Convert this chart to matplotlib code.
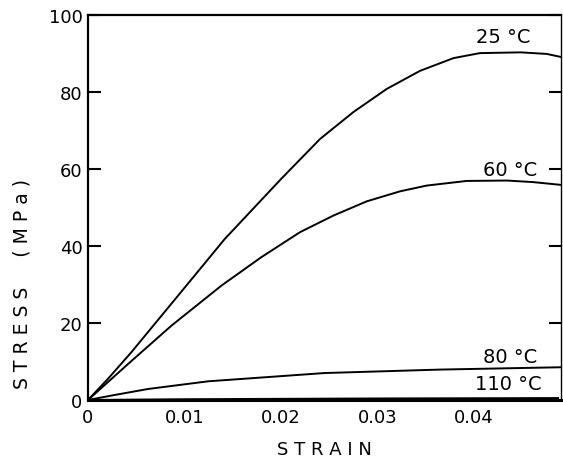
import matplotlib.pyplot as plt
import numpy as np

# stress-strain curves (strain, MPa)
strain_25 = [0, 0.00207, 0.00449, 0.00933, 0.01416, 0.0200, 0.02404, 0.0275,
             0.03095, 0.0344, 0.03786, 0.0406, 0.0448, 0.0475, 0.0492]
stress_25 = [0, 5.5, 12.4, 27.1, 41.8, 57.4, 67.8, 74.8,
             80.8, 85.5, 88.8, 90.1, 90.3, 89.9, 89.0]

strain_60 = [0, 0.00415, 0.00864, 0.01382, 0.01796, 0.02197, 0.02542, 0.02888,
             0.03233, 0.0351, 0.03924, 0.0434, 0.0461, 0.0489]
stress_60 = [0, 9.35, 19.3, 29.7, 37.1, 43.6, 47.9, 51.6,
             54.2, 55.7, 56.9, 57.0, 56.6, 55.9]

strain_80 = [0, 0.00276, 0.00622, 0.01244, 0.0245, 0.0365, 0.0489]
stress_80 = [0, 1.3, 2.86, 4.85, 7.0, 7.9, 8.5]

strain_110 = [0, 0.01, 0.03, 0.0487]
stress_110 = [0, 0.2, 0.4, 0.5]

labels = ['25 °C', '60 °C', '80 °C', '110 °C']
label_x = [0.0430, 0.0437, 0.0437, 0.0435]
label_y = [94.3, 60.0, 11.2, 4.2]

xticks = [0, 0.01, 0.02, 0.03, 0.04]
xticklabels = ['0', '0.01', '0.02', '0.03', '0.04']
yticks = [0, 20, 40, 60, 80, 100]

fig = plt.figure(figsize=(5.63, 4.64), dpi=100)
ax = fig.add_axes([0.1563, 0.1358, 0.8401, 0.8297])

for sx, sy in [(strain_25, stress_25), (strain_60, stress_60),
               (strain_80, stress_80), (strain_110, stress_110)]:
    ax.plot(sx, sy, color='black', lw=1.4, solid_joinstyle='round')

for t, x, y in zip(labels, label_x, label_y):
    ax.text(x, y, t, ha='center', va='center', fontsize=14)

ax.set_xlim(0, 0.049)
ax.set_ylim(0, 100)
ax.set_xticks(xticks)
ax.set_xticklabels(xticklabels, fontsize=13)
ax.set_yticks(yticks)
ax.set_yticklabels([str(v) for v in yticks], fontsize=13)
ax.tick_params(axis='x', length=0, pad=6)
ax.tick_params(axis='y', direction='in', length=9, width=1.5, right=True, pad=4)

for side in ['left', 'top']:
    ax.spines[side].set_linewidth(1.6)
ax.spines['bottom'].set_linewidth(2.2)
ax.spines['right'].set_linewidth(1.0)

fig.text(0.039, 0.388, 'S T R E S S     ( M P a )', rotation=90,
         ha='center', va='center', fontsize=13.5)
fig.text(0.577, 0.030, 'S T R A I N', ha='center', va='center', fontsize=13)

fig.savefig('out.png', dpi=100)
